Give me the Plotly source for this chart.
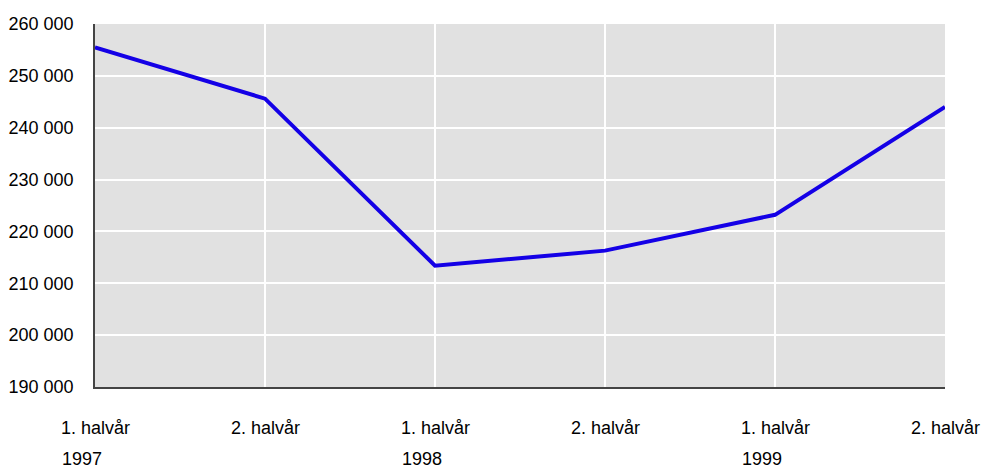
import plotly.graph_objects as go

periods = ["1. halvår", "2. halvår", "1. halvår", "2. halvår", "1. halvår", "2. halvår"]
years = ["1997", "", "1998", "", "1999", ""]
values = [255500, 245600, 213400, 216300, 223200, 244000]
y_ticks = [190000, 200000, 210000, 220000, 230000, 240000, 250000, 260000]
y_tick_labels = ["190 000", "200 000", "210 000", "220 000", "230 000", "240 000", "250 000", "260 000"]

xs = list(range(len(values)))
font_family = "Liberation Sans, Arial, sans-serif"
fsize = 18

fig = go.Figure()
fig.add_trace(go.Scatter(x=xs, y=values, mode="lines",
                         line=dict(color="#1400e6", width=4)))

annotations = []
for i, (p, yr) in enumerate(zip(periods, years)):
    annotations.append(dict(x=i, y=0, xref="x", yref="paper", text=p, showarrow=False,
                            xanchor="center", yanchor="middle", yshift=-41,
                            font=dict(family=font_family, size=fsize, color="#000")))
    if yr:
        annotations.append(dict(x=i, y=0, xref="x", yref="paper", text=yr, showarrow=False,
                                xanchor="left", yanchor="middle", yshift=-72, xshift=-35,
                                font=dict(family=font_family, size=fsize, color="#000")))

fig.update_layout(
    width=985, height=468,
    margin=dict(l=95, r=40, t=24, b=81),
    paper_bgcolor="white", plot_bgcolor="#e1e1e1",
    showlegend=False,
    font=dict(family=font_family, size=fsize, color="#000"),
    annotations=annotations,
    xaxis=dict(range=[0, 5], tickvals=xs, showticklabels=False, showgrid=True,
               gridcolor="white", gridwidth=2, zeroline=False, automargin=False,
               showline=True, linecolor="#444", linewidth=1.5, ticks=""),
    yaxis=dict(range=[190000, 260000], tickvals=y_ticks, ticktext=y_tick_labels,
               showgrid=True, gridcolor="white", gridwidth=2, zeroline=False,
               automargin=False,
               showline=True, linecolor="#444", linewidth=1.5, ticks="",
               ticklabelstandoff=16),
)

fig.write_html("out.html", config={"displayModeBar": False},
               post_script="document.body.style.margin='0';document.body.style.overflow='hidden';")
